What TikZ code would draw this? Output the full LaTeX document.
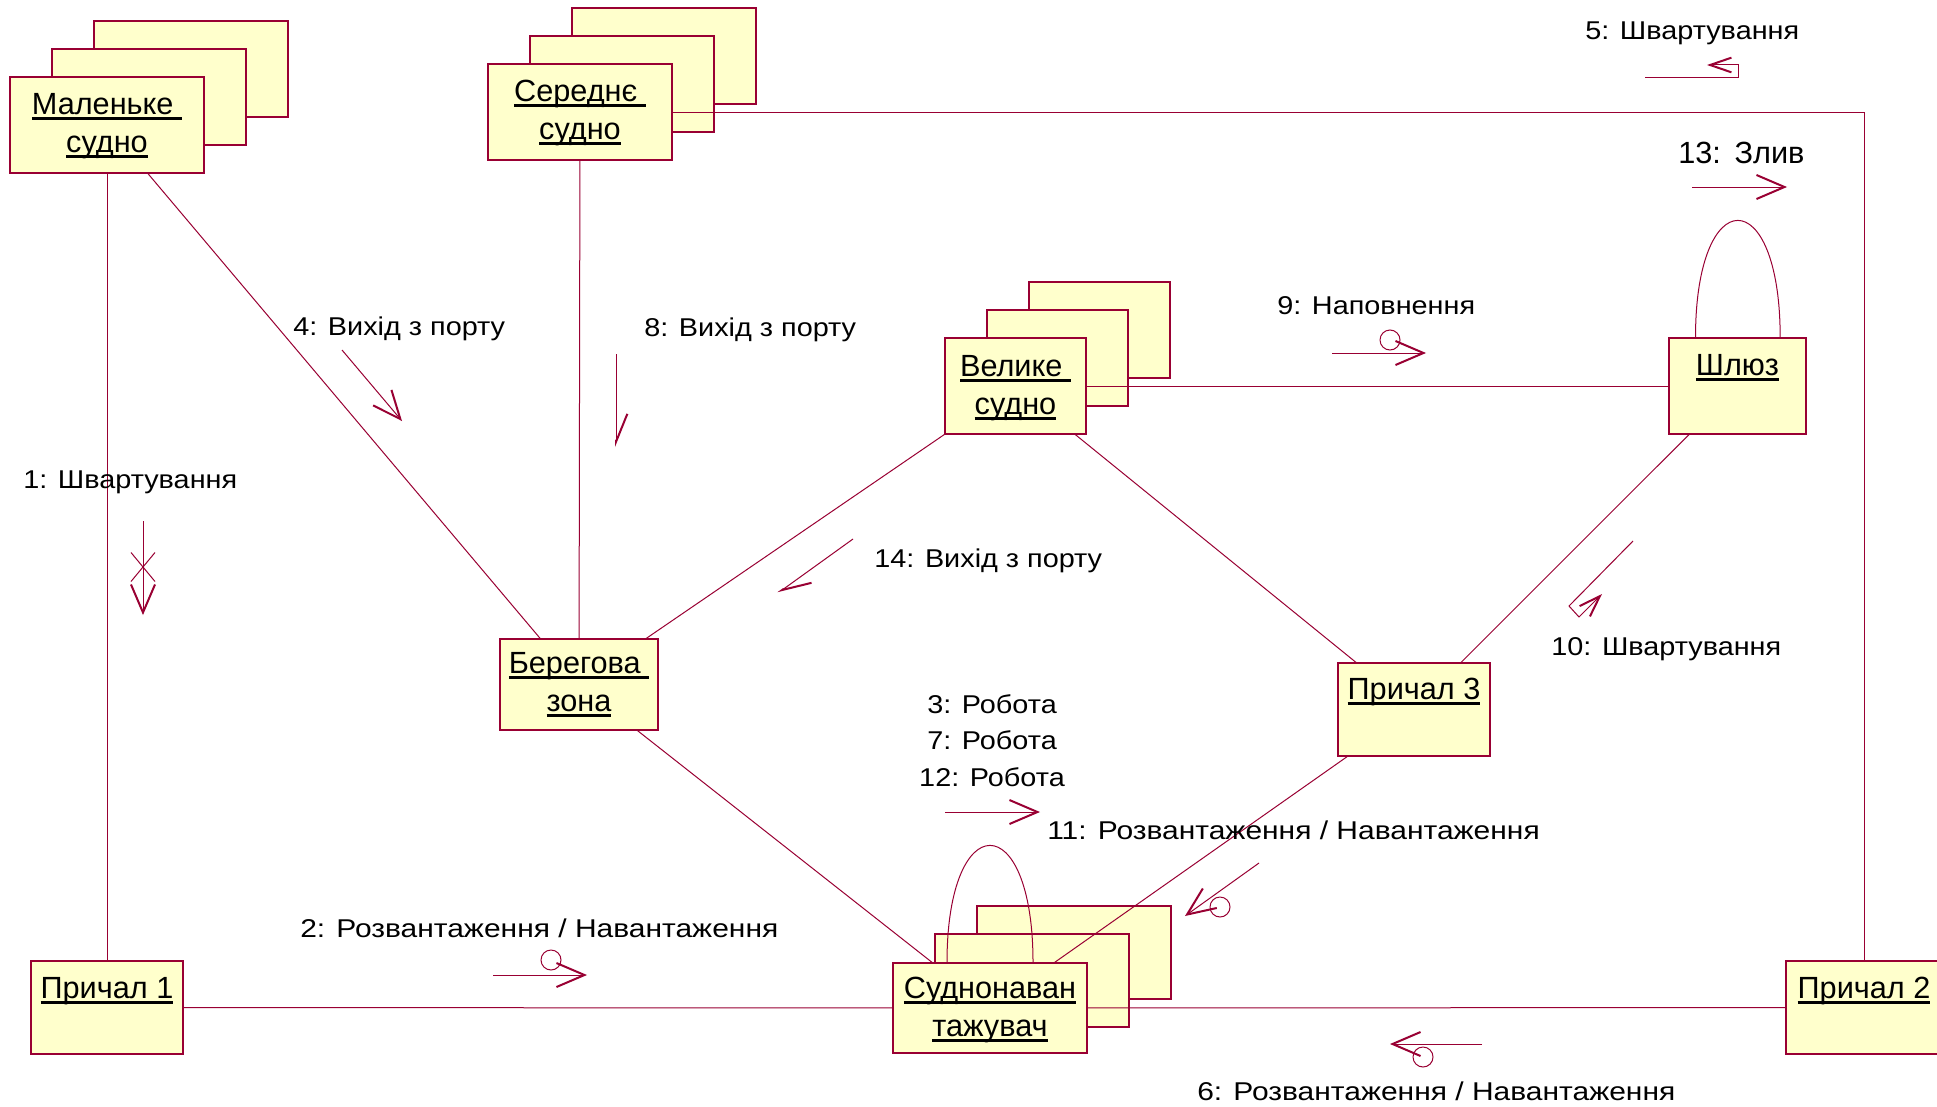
\documentclass[tikz,border=0pt]{standalone}
\usepackage{fontspec}
\setmainfont{Liberation Sans}
\newfontfamily\msgfont{Liberation Sans}[FakeStretch=1.12]
\newfontfamily\widemsgfont{Liberation Sans}[FakeStretch=1.165]
\usetikzlibrary{arrows.meta,fit,calc}
\definecolor{roseline}{RGB}{153,0,51}
\definecolor{rosefill}{RGB}{255,255,204}
% underlined object name
\newcommand\undl[1]{\setbox0\hbox{#1}\rlap{\rule[-4.3pt]{\wd0}{2.4pt}}\box0}
\tikzset{
  objbox/.style={draw=roseline, fill=rosefill, line width=0.9pt, inner sep=0pt, rectangle},
  link/.style={draw=roseline, line width=0.75pt},
  objname/.style={inner sep=0pt, font=\fontsize{23}{28.5}\selectfont, anchor=base},
  msgtext/.style={inner sep=0pt, font=\msgfont\fontsize{19.3}{27.4}\selectfont, anchor=base west},
  widemsg/.style={msgtext, font=\widemsgfont\fontsize{19.3}{27.4}\selectfont},
  shaft/.style={draw=roseline, line width=0.75pt},
  bighead/.tip={Straight Barb[length=21pt, width=18pt, line width=1.5pt]},
  halfhead/.tip={Straight Barb[length=21pt, width=17pt, line width=1.5pt, harpoon]},
  smallhead/.tip={Straight Barb[length=16pt, width=11pt, line width=1.5pt]},
  clock/.style={draw=roseline, line width=0.75pt},
}
\begin{document}
\begin{tikzpicture}[x=0.75pt,y=-0.75pt]
\path[use as bounding box, fill=white] (0,0) rectangle (1937,1106);

% ---------- objects (stacked ones: back copies first) ----------
\node[objbox, fit={(94,21) (288,117)}] (malC) {};
\node[objbox, fit={(52,49) (246,145)}] (malB) {};
\node[objbox, fit={(10,77) (204,173)}] (mal) {};

\node[objbox, fit={(572,8) (756,104)}] (serC) {};
\node[objbox, fit={(530,36) (714,132)}] (serB) {};
\node[objbox, fit={(488,64) (672,160)}] (ser) {};

\node[objbox, fit={(1029,282) (1170,378)}] (velC) {};
\node[objbox, fit={(987,310) (1128,406)}] (velB) {};
\node[objbox, fit={(945,338) (1086,434)}] (vel) {};

\node[objbox, fit={(977,906) (1171,999)}] (sudC) {};
\node[objbox, fit={(935,934) (1129,1027)}] (sudB) {};
\node[objbox, fit={(893,963) (1087,1053)}] (sud) {};

\node[objbox, fit={(1669,338) (1806,434)}] (shl) {};
\node[objbox, fit={(500,639) (658,730)}] (ber) {};
\node[objbox, fit={(1338,663) (1490,756)}] (pr3) {};
\node[objbox, fit={(31,961) (183,1054)}] (pr1) {};
\node[objbox, fit={(1786,961) (1942,1054)}] (pr2) {};

% ---------- object names ----------
\node[objname] (malT) at ([yshift=-28.5pt]mal.north) {\begin{tabular}[t]{@{}c@{}}\undl{Маленьке }\\\undl{судно}\end{tabular}};
\node[objname] (serT) at ([yshift=-28.5pt]ser.north) {\begin{tabular}[t]{@{}c@{}}\undl{Середнє }\\\undl{судно}\end{tabular}};
\node[objname] (velT) at ([yshift=-29.5pt]vel.north) {\begin{tabular}[t]{@{}c@{}}\undl{Велике }\\\undl{судно}\end{tabular}};
\node[objname] (sudT) at ([yshift=-27pt]sud.north) {\begin{tabular}[t]{@{}c@{}}\undl{Суднонаван}\\\undl{тажувач}\end{tabular}};
\node[objname] (berT) at ([yshift=-26.5pt]ber.north) {\begin{tabular}[t]{@{}c@{}}\undl{Берегова }\\\undl{зона}\end{tabular}};
\node[objname] (shlT) at ([yshift=-28.5pt]shl.north) {\undl{Шлюз}};
\node[objname] (pr3T) at ([yshift=-27.75pt]pr3.north) {\undl{Причал 3}};
\node[objname] (pr1T) at ([yshift=-28.5pt]pr1.north) {\undl{Причал 1}};
\node[objname] (pr2T) at ([yshift=-28.5pt]pr2.north) {\undl{Причал 2}};

% ---------- links ----------
\draw[link] (mal) -- (pr1);
\draw[link] (mal) -- (ber);
\draw[link] (ser) -- (ber);
\draw[link] (ser) -| (pr2);
\draw[link] (vel) -- (shl);
\draw[link] (vel) -- (ber);
\draw[link] (vel) -- (pr3);
\draw[link] (shl) -- (pr3);
\draw[link] (pr3) -- (sud);
\draw[link] (ber) -- (sud);
\draw[link] (pr1) -- (sud);
\draw[link] (sud) -- (pr2);
% self links
\draw[link] ([xshift=-32.25pt]sud.north) .. controls +(0,117pt) and +(0,117pt) .. ([xshift=32.25pt]sud.north);
\draw[link] ([xshift=-31.5pt]shl.north) .. controls +(0,117pt) and +(0,117pt) .. ([xshift=32pt]shl.north);

% ---------- messages ----------
% 1: with cross mark
\coordinate (m1a) at (143,521); \coordinate (m1b) at (143,615); \coordinate (m1x) at (143,567);
\draw[shaft, -{bighead}] (m1a) -- (m1b);
\draw[shaft] ($(m1x)+(-12,-14.5)$) -- ($(m1x)+(12,14.5)$) ($(m1x)+(12,-14.5)$) -- ($(m1x)+(-12,14.5)$);
% 2
\coordinate (m2a) at (493,975); \coordinate (m2b) at (587,975); \coordinate (m2c) at (551,960);
\draw[shaft, -{bighead}] (m2a) -- (m2b);
\draw[clock] (m2c) circle[radius=7.5pt];
% 3, 7, 12
\coordinate (m3a) at (945,812); \coordinate (m3b) at (1040,812);
\draw[shaft, -{bighead}] (m3a) -- (m3b);
% 4
\coordinate (m4a) at (342,350); \coordinate (m4b) at (402,421);
\draw[shaft, -{bighead}] (m4a) -- (m4b);
% 5: returning arrow
\coordinate (m5a) at (1645,78); \coordinate (m5b) at (1738,78); \coordinate (m5c) at (1738,65); \coordinate (m5d) at (1707,65);
\draw[shaft, -{smallhead}] (m5a) -- (m5b) -- (m5c) -- (m5d);
% 6
\coordinate (m6a) at (1482,1044); \coordinate (m6b) at (1390,1044); \coordinate (m6c) at (1423,1057);
\draw[shaft, -{bighead}] (m6a) -- (m6b);
\draw[clock] (m6c) circle[radius=7.5pt];
% 8
\coordinate (m8a) at (616,354); \coordinate (m8b) at (616,447);
\draw[shaft, -{halfhead}] (m8a) -- (m8b);
% 9
\coordinate (m9a) at (1332,353); \coordinate (m9b) at (1426,353); \coordinate (m9c) at (1390,340);
\draw[shaft, -{bighead}] (m9a) -- (m9b);
\draw[clock] (m9c) circle[radius=7.5pt];
% 10: returning arrow
\coordinate (m10a) at (1633,541); \coordinate (m10b) at (1569,606); \coordinate (m10c) at (1579,617); \coordinate (m10d) at (1602,594);
\draw[shaft, -{smallhead}] (m10a) -- (m10b) -- (m10c) -- (m10d);
% 11
\coordinate (m11a) at (1259,863); \coordinate (m11b) at (1185,916); \coordinate (m11c) at (1220,907);
\draw[shaft, -{bighead}] (m11a) -- (m11b);
\draw[clock] (m11c) circle[radius=7.5pt];
% 13
\coordinate (m13a) at (1692,187); \coordinate (m13b) at (1787,187);
\draw[shaft, -{bighead}] (m13a) -- (m13b);
% 14
\coordinate (m14a) at (853,539); \coordinate (m14b) at (778,593);
\draw[shaft, -{halfhead}] (m14a) -- (m14b);

% ---------- message labels ----------
\node[msgtext] (t1) at (23,488) {1: Швартування};
\node[widemsg] (t2) at (300,937) {2: Розвантаження / Навантаження};
\node[msgtext, anchor=base] (t3) at (992,713) {\begin{tabular}[t]{@{}c@{}}3: Робота\\7: Робота\\12: Робота\end{tabular}};
\node[msgtext] (t4) at (293,335) {4: Вихід з порту};
\node[msgtext] (t5) at (1585,40) {5: Швартування};
\node[widemsg] (t6) at (1197,1100) {6: Розвантаження / Навантаження};
\node[msgtext] (t8) at (644,336) {8: Вихід з порту};
\node[msgtext] (t9) at (1277,314) {9: Наповнення};
\node[msgtext] (t10) at (1551,655) {10: Швартування};
\node[widemsg] (t11) at (1047,839) {11: Розвантаження / Навантаження};
\node[msgtext, font=\fontsize{23}{27}\selectfont] (t13) at (1678,163) {13:\hspace{0.45em}Злив};
\node[msgtext] (t14) at (874,567) {14: Вихід з порту};
\end{tikzpicture}
\end{document}
